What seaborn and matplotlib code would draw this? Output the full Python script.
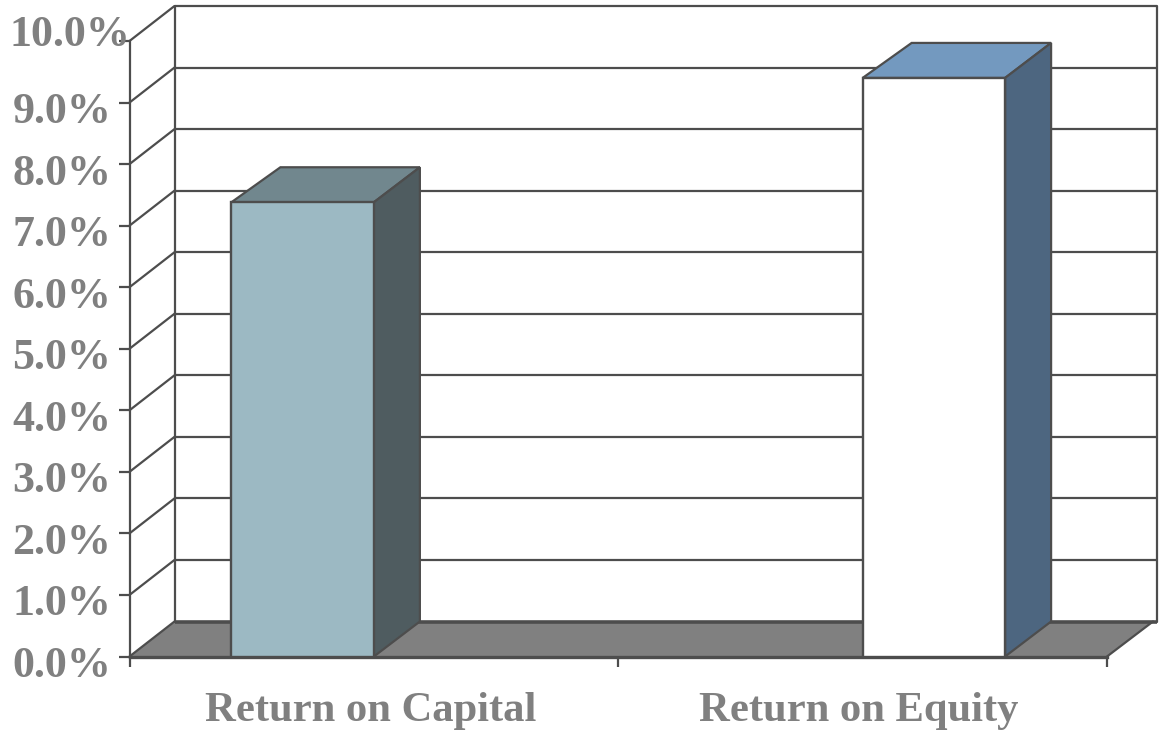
import matplotlib
matplotlib.use("Agg")
import matplotlib.pyplot as plt
from matplotlib.patches import Polygon
from matplotlib.transforms import ScaledTranslation
import pandas as pd
import seaborn as sns

categories = ["Return on Capital", "Return on Equity"]
series_values = [7.38, 9.40]
y_ticks = [0, 1, 2, 3, 4, 5, 6, 7, 8, 9, 10]
y_labels = ["0.0%", "1.0%", "2.0%", "3.0%", "4.0%", "5.0%", "6.0%", "7.0%", "8.0%", "9.0%", "10.0%"]

front_colors = ["#9CB9C3", "#FFFFFF"]
top_colors = ["#71878E", "#7399BF"]
side_colors = ["#4F5C60", "#4D6680"]
line_color = "#4D4D4D"
text_color = "#808080"
floor_color = "#808080"

W, H = 1163, 733
sns.set_style("white")
plt.rcParams["font.family"] = ["Liberation Serif", "DejaVu Serif"]
plt.rcParams["font.weight"] = "bold"

fig = plt.figure(figsize=(W / 100, H / 100), dpi=100)
L, R, B, T = 129.5, 1107, 656.5, 41
ax = fig.add_axes([L / W, 1 - B / H, (R - L) / W, (B - T) / H])
ax.patch.set_alpha(0)

df = pd.DataFrame({"category": categories, "value": series_values, "series": categories})
sns.barplot(data=df, x="category", y="value", hue="series", hue_order=categories,
            palette=front_colors, saturation=1, width=0.583, gap=0, dodge=True,
            edgecolor=line_color, linewidth=1.7, legend=False, ax=ax)
bars = sorted(ax.patches, key=lambda p: p.get_x())
ax.set_xlim(-0.5, 1.5)
ax.set_ylim(0, 10)
ax.set_xlabel("")
ax.set_ylabel("")

px_x = (R - L) / 2
px_y = (B - T) / 10
dx = 46 / px_x
dy = 35 / px_y
x0, x1 = ax.get_xlim()
wall_l = x0 + dx - 1 / px_x
wall_r = x1 + dx + 3.5 / px_x
lw = 1.6

# back wall, side wall, floor
floor = Polygon([(x0, 0), (x1, 0), (x1 + dx, dy), (x0 + dx, dy)], closed=True,
                facecolor=floor_color, edgecolor="none", clip_on=False, zorder=0.6)
ax.add_patch(floor)
for y in y_ticks:
    ax.plot([wall_l, wall_r], [y + dy, y + dy], color=line_color,
            lw=2.6 if y == 0 else lw, clip_on=False, zorder=0.7, solid_capstyle="butt")
    ax.plot([x0, wall_l], [y, y + dy], color=line_color, lw=lw, clip_on=False, zorder=0.7)
ax.plot([wall_l, wall_l], [dy, 10 + dy], color=line_color, lw=lw, clip_on=False, zorder=0.7)
ax.plot([wall_r, wall_r], [dy, 10 + dy], color=line_color, lw=lw, clip_on=False, zorder=0.7)
ax.plot([x1, x1 + dx], [0, dy], color=line_color, lw=lw, clip_on=False, zorder=0.7)

# 3-D faces of each bar, taken from the bars seaborn drew
for p, tc, sc in zip(bars, top_colors, side_colors):
    a, w, h = p.get_x(), p.get_width(), p.get_height()
    p.set_zorder(3)
    p.set_clip_on(False)
    ax.add_patch(Polygon([(a, h), (a + w, h), (a + w + dx, h + dy), (a + dx + 3 / px_x, h + dy)], closed=True,
                         facecolor=tc, edgecolor=line_color, lw=lw, clip_on=False, zorder=2.9,
                         joinstyle="miter"))
    ax.add_patch(Polygon([(a + w, 0), (a + w + dx, dy), (a + w + dx, h + dy), (a + w, h)], closed=True,
                         facecolor=sc, edgecolor=line_color, lw=lw, clip_on=False, zorder=2.9,
                         joinstyle="miter"))

for s in ["top", "right"]:
    ax.spines[s].set_visible(False)
ax.spines["left"].set_color(line_color)
ax.spines["left"].set_linewidth(lw)
ax.spines["bottom"].set_color(line_color)
ax.spines["bottom"].set_linewidth(2.4)

ax.set_yticks(y_ticks)
ax.set_yticklabels(y_labels)
ax.set_xticks([0, 1])
ax.set_xticklabels(categories)
ax.set_xticks([-0.5, 0.5, 1.5], minor=True)
ax.tick_params(axis="y", which="major", left=True, length=8, width=lw, color=line_color,
               labelsize=31.7, labelcolor=text_color, pad=76.3)
ax.tick_params(axis="x", which="major", bottom=False, length=0, labelsize=30.7,
               labelcolor=text_color, pad=25.5)
ax.tick_params(axis="x", which="minor", bottom=True, length=7, width=lw, color=line_color)

for lab, txt in zip(ax.get_yticklabels(), y_labels):
    lab.set_ha("left")
    lab.set_fontweight("bold")
    off = (-3, 11) if txt == "10.0%" else (0, -5)
    lab.set_transform(lab.get_transform() + ScaledTranslation(off[0] / 100, off[1] / 100, fig.dpi_scale_trans))
for lab in ax.get_xticklabels():
    lab.set_fontweight("bold")
    lab.set_transform(lab.get_transform() + ScaledTranslation(-3.5 / 100, 0, fig.dpi_scale_trans))

fig.savefig("out.png", dpi=100, facecolor="white")
